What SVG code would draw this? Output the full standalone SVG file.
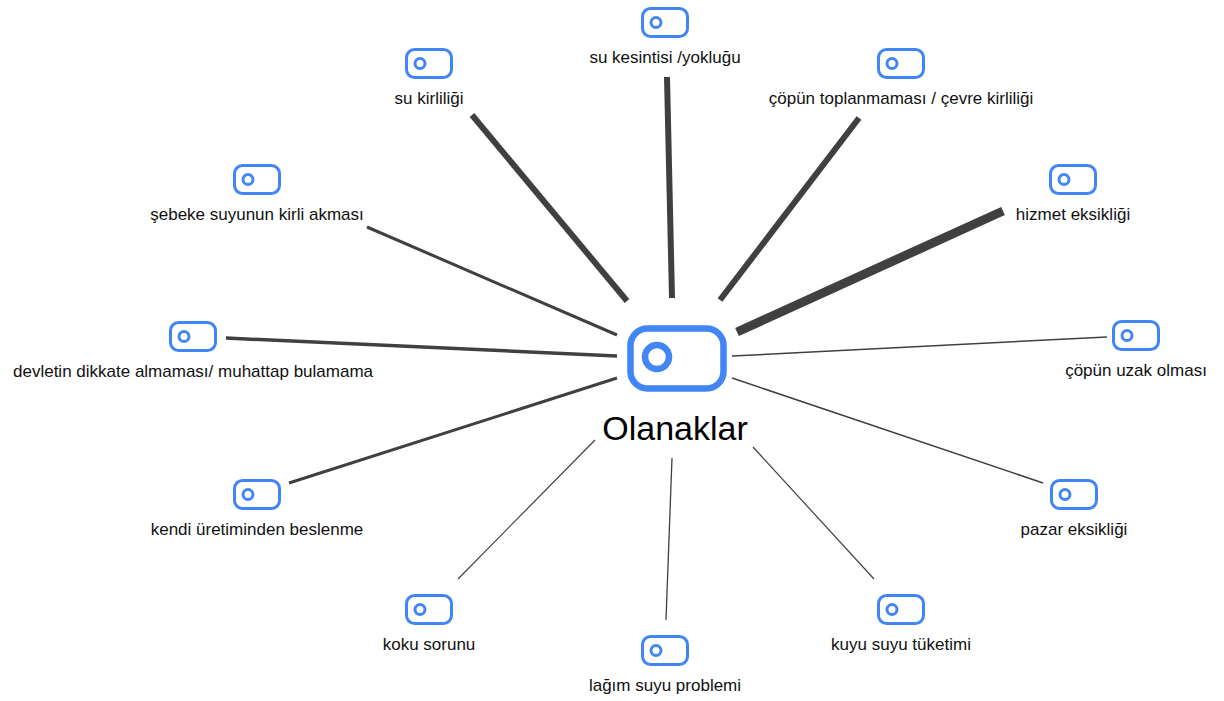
<svg xmlns="http://www.w3.org/2000/svg" width="1224" height="701" viewBox="0 0 1224 701">
<defs>
<style>
.lbl{font-family:"Liberation Sans",Arial,sans-serif;font-size:17px;fill:#111;text-anchor:middle}
.hub{font-family:"Liberation Sans",Arial,sans-serif;font-size:34px;fill:#000;text-anchor:middle}
.ic{fill:none;stroke:#4285F4;stroke-width:3}
.icb{fill:none;stroke:#4285F4;stroke-width:6.5}
.e{stroke:#404040;fill:none;stroke-linecap:butt}
</style>
<g id="icon">
<rect class="ic" x="1.5" y="1.5" width="45" height="28" rx="8"/>
<circle class="ic" cx="15" cy="15.5" r="5"/>
</g>
</defs>
<rect width="1224" height="701" fill="#fff"/>
<g id="connectors">
<line class="e" x1="667" y1="77" x2="672" y2="298" stroke-width="6"/>
<line class="e" x1="472" y1="115" x2="627" y2="301" stroke-width="6"/>
<line class="e" x1="859" y1="118" x2="720" y2="300" stroke-width="6"/>
<line class="e" x1="1003" y1="211" x2="737" y2="332" stroke-width="9"/>
<line class="e" x1="367" y1="227" x2="617" y2="335" stroke-width="3"/>
<line class="e" x1="226" y1="338" x2="617" y2="356" stroke-width="3.5"/>
<line class="e" x1="1107" y1="337" x2="732" y2="356" stroke-width="1.5"/>
<line class="e" x1="289" y1="483" x2="617" y2="378" stroke-width="3"/>
<line class="e" x1="1043" y1="483" x2="732" y2="378" stroke-width="1.5"/>
<line class="e" x1="458" y1="579" x2="595" y2="440" stroke-width="1.2"/>
<line class="e" x1="666" y1="620" x2="672" y2="458" stroke-width="1.3"/>
<line class="e" x1="874" y1="579" x2="753" y2="447" stroke-width="1.2"/>
</g>
<g id="hub">
<rect class="icb" x="630.5" y="328.5" width="93" height="60" rx="17"/>
<circle class="icb" cx="657" cy="357" r="12" stroke-width="5"/>
<text class="hub" x="675" y="440">Olanaklar</text>
</g>
<g id="n1"><use href="#icon" x="641" y="7"/><text class="lbl" x="665" y="63">su kesintisi /yokluğu</text></g>
<g id="n2"><use href="#icon" x="405" y="48"/><text class="lbl" x="429" y="104">su kirliliği</text></g>
<g id="n3"><use href="#icon" x="877" y="48"/><text class="lbl" x="901" y="104">çöpün toplanmaması / çevre kirliliği</text></g>
<g id="n4"><use href="#icon" x="233" y="164"/><text class="lbl" x="257" y="220">şebeke suyunun kirli akması</text></g>
<g id="n5"><use href="#icon" x="1049" y="164"/><text class="lbl" x="1073" y="220">hizmet eksikliği</text></g>
<g id="n6"><use href="#icon" x="169" y="321"/><text class="lbl" x="193" y="377">devletin dikkate almaması/ muhattap bulamama</text></g>
<g id="n7"><use href="#icon" x="1112" y="320"/><text class="lbl" x="1136" y="376">çöpün uzak olması</text></g>
<g id="n8"><use href="#icon" x="233" y="479"/><text class="lbl" x="257" y="535">kendi üretiminden beslenme</text></g>
<g id="n9"><use href="#icon" x="1050" y="479"/><text class="lbl" x="1074" y="535">pazar eksikliği</text></g>
<g id="n10"><use href="#icon" x="405" y="594"/><text class="lbl" x="429" y="650">koku sorunu</text></g>
<g id="n11"><use href="#icon" x="877" y="594"/><text class="lbl" x="901" y="650">kuyu suyu tüketimi</text></g>
<g id="n12"><use href="#icon" x="641" y="635"/><text class="lbl" x="665" y="691">lağım suyu problemi</text></g>
</svg>
